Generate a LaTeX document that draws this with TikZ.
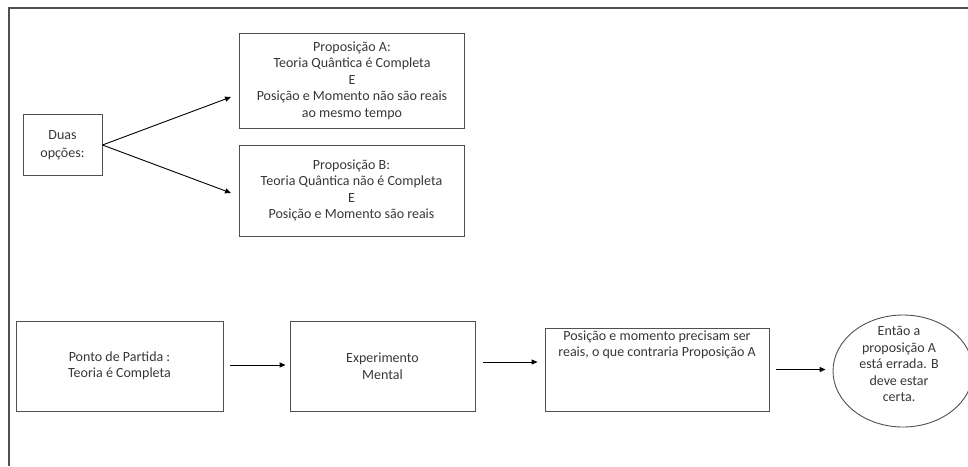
\documentclass[tikz,border=0pt]{standalone}
\usepackage{fontspec}
\setmainfont{Carlito}
\usetikzlibrary{arrows.meta,shapes.geometric}
\definecolor{linegray}{RGB}{80,80,80}
\definecolor{textgray}{RGB}{55,55,55}
\begin{document}
\begin{tikzpicture}[x=1pt, y=-1pt,
  every node/.style={font=\fontsize{14}{16.5}\selectfont, text=textgray, align=center},
  box/.style={draw=linegray, line width=0.9pt, inner sep=0pt},
  arrow/.style={draw=black, line width=0.9pt, -{Triangle[length=6pt,width=5pt]}}]
\useasboundingbox (0,0) rectangle (968,466);
\draw[linegray, line width=1.6pt] (9,466) -- (9,8) -- (968,8);

\node[box, minimum width=79, minimum height=61] (duas) at (62.5,145) {Duas\\[2pt]opções:};
\node[box, minimum width=225, minimum height=95] (propA) at (352,80.5) {Proposição A:\\Teoria Quântica é Completa\\E\\Posição e Momento não são reais\\ao mesmo tempo};
\node[box, minimum width=225, minimum height=91] (propB) at (351.5,190.5) {Proposição B:\\Teoria Quântica não é Completa\\E\\Posição e Momento são reais};

\node[box, minimum width=207, minimum height=90] (ponto) at (119.5,366) {Ponto de Partida :\\Teoria é Completa};
\node[box, minimum width=185, minimum height=90] (exper) at (382.5,366) {Experimento\\Mental};
\node[box, minimum width=224, minimum height=83] (pos) at (657,369.5) {};
\node (posText) at (657,345) {Posição e momento precisam ser\\reais, o que contraria Proposição A};
\node[box, ellipse, minimum width=140, minimum height=112] (concl) at (903,371) {};
\node (conclText) at (899,364) {Então a\\proposição A\\está errada. B\\deve estar\\certa.};

\coordinate (tipA) at (231,97);
\coordinate (tipB) at (231,193);

\draw[arrow] (duas.east) -- (tipA);
\draw[arrow] (duas.east) -- (tipB);
\draw[arrow, shorten <=7pt, shorten >=4pt] ([yshift=1pt]ponto.east) -- ([yshift=1pt]exper.west);
\draw[arrow, shorten <=8pt, shorten >=7pt] ([yshift=4pt]exper.east) -- ([yshift=4pt]exper.east -| pos.west);
\draw[arrow, shorten <=7pt, shorten >=7pt] (pos.east) -- (pos.east -| concl.west);
\end{tikzpicture}
\end{document}
